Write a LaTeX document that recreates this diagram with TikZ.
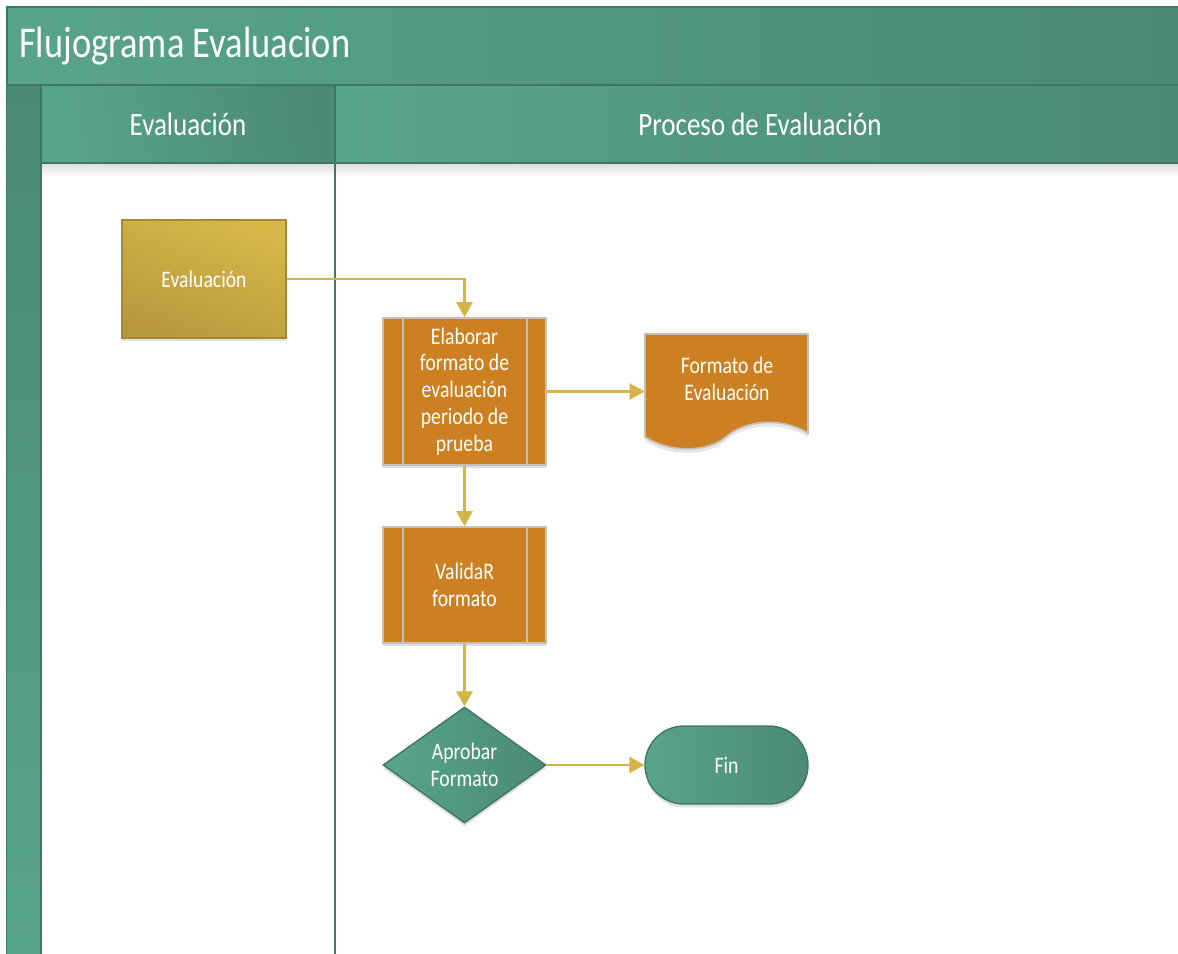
\documentclass[tikz,border=0pt]{standalone}
\usepackage{fontspec}
\setmainfont{Carlito}[FakeStretch=0.83]
\usetikzlibrary{arrows.meta,shapes.geometric,shapes.misc,shadows}

\definecolor{tealL}{HTML}{58A48B}
\definecolor{tealD}{HTML}{4B8A76}
\definecolor{tealB}{HTML}{3F7665}
\definecolor{goldL}{HTML}{D7B847}
\definecolor{goldD}{HTML}{B7993D}
\definecolor{goldB}{HTML}{A38932}
\definecolor{orangeF}{HTML}{CD8021}
\definecolor{grayB}{HTML}{C0C0C0}
\definecolor{flowC}{HTML}{D4B446}

\tikzset{
  boxtext/.style={text=white, align=center, font=\fontsize{13.5}{15.3}\selectfont},
  softshadow/.style={drop shadow={shadow xshift=0pt, shadow yshift=-0.07cm, opacity=0.12, fill=black}},
  startbox/.style={boxtext, softshadow, draw=goldB, line width=0.8pt,
    top color=goldL, bottom color=goldD, shading angle=-20,
    minimum width=3.28cm, minimum height=2.36cm, inner sep=0pt},
  procbox/.style={boxtext, softshadow, draw=grayB, line width=0.9pt, fill=orangeF,
    minimum width=3.26cm, inner sep=0pt,
    path picture={
      \draw[grayB, line width=0.9pt]
        ([xshift=0.4cm]path picture bounding box.north west) -- ([xshift=0.4cm]path picture bounding box.south west)
        ([xshift=-0.38cm]path picture bounding box.north east) -- ([xshift=-0.38cm]path picture bounding box.south east);
    }},
  decbox/.style={boxtext, softshadow, diamond, draw=tealB, line width=0.8pt,
    left color=tealL, right color=tealD,
    minimum width=3.26cm, minimum height=2.32cm, inner sep=0pt},
  endbox/.style={boxtext, softshadow, rounded rectangle, draw=tealB, line width=0.8pt,
    left color=tealL, right color=tealD,
    minimum width=3.26cm, minimum height=1.56cm, inner sep=0pt},
  flow/.style={draw=flowC, line width=1.6pt, -{Triangle[length=0.3cm, width=0.32cm]}},
  lane/.style={draw=tealB, line width=1.2pt},
  headtext/.style={text=white, font=\fontsize{18.5}{22}\selectfont},
}

\begin{document}
\begin{tikzpicture}[x=0.02cm, y=-0.02cm]
  \useasboundingbox (0,0) rectangle (1178,954);
  \fill[white] (0,0) rectangle (1178,954);

  % pool title bar
  \shade[left color=tealL, right color=tealD] (7,7) rectangle (1178,85);
  \draw[tealB, line width=1.2pt] (1178,7) -- (7,7) -- (7,954);
  \node[anchor=west, text=white, font=\fontsize{25}{29}\selectfont] (title) at (13,46) {Flujograma Evaluacion};

  % left strip of the pool
  \shade[top color=tealD, bottom color=tealL] (7,85) rectangle (41,954);

  % shadow under the header row
  \shade[top color=black!14, bottom color=white] (41,163) rectangle (1178,176);

  % lane headers
  \shade[left color=tealL, right color=tealD, shading angle=100] (41,85) rectangle (335,163);
  \shade[left color=tealL, right color=tealD] (335,85) rectangle (1178,163);
  \node[headtext] (h1) at (188,124) {Evaluación};
  \node[headtext] (h2) at (760,124) {Proceso de Evaluación};

  % lane borders
  \draw[lane] (7,85) -- (1178,85);
  \draw[lane] (41,163) -- (1178,163);
  \draw[lane] (41,85) -- (41,954);
  \draw[lane] (335,85) -- (335,954);

  % flow nodes
  \node[startbox] (eval) at (204,279) {Evaluación};
  \node[procbox, minimum height=2.94cm] (elab) at (464.5,391.5)
    {Elaborar\\formato de\\evaluación\\periodo de\\prueba};
  \node[procbox, minimum height=2.32cm] (valid) at (464.5,585) {ValidaR\\formato};
  \node[decbox] (dec) at (464.5,765) {Aprobar\\Formato};
  \node[endbox] (fin) at (726.5,765) {Fin};

  % document shape
  \node[boxtext, minimum width=3.26cm, minimum height=2.06cm, inner sep=0pt] (doc) at (726.5,385) {};
  \fill[black, opacity=0.1] (645,337) -- (808,337) -- (808,437)
    .. controls (780,420) and (745,425) .. (727,440)
    .. controls (708,457) and (670,457) .. (645,441) -- cycle;
  \filldraw[fill=orangeF, draw=grayB, line width=0.9pt]
    (645,334) -- (808,334) -- (808,433)
    .. controls (780,416) and (745,421) .. (727,436)
    .. controls (708,453) and (670,453) .. (645,437) -- cycle;
  \node[boxtext] (doctext) at (727,379) {Formato de\\Evaluación};

  % connectors
  \draw[flow] (eval.east) -| (elab.north);
  \draw[flow] (elab.east) -- (elab.east -| doc.west);
  \draw[flow] (elab.south) -- (valid.north);
  \draw[flow] (valid.south) -- (dec.north);
  \draw[flow] (dec.east) -- (fin.west);
\end{tikzpicture}
\end{document}
